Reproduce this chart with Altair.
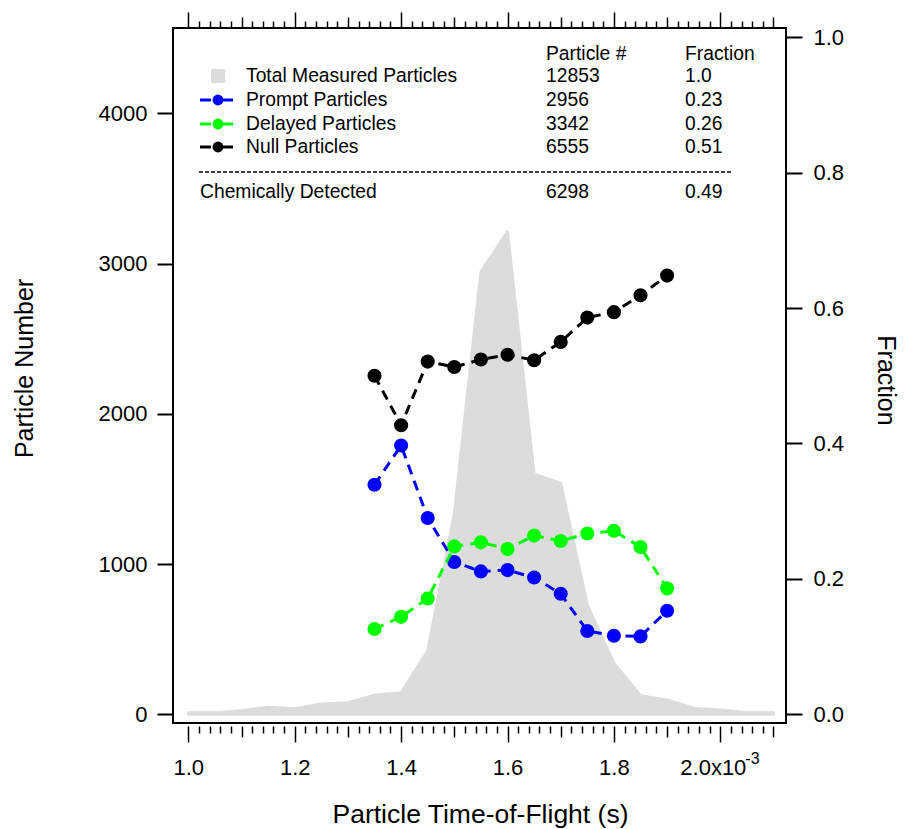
import altair as alt
import pandas as pd

# Histogram of all measured particles vs. time-of-flight (units of 1e-3 s)
hist_tof = [1.00, 1.05, 1.10, 1.15, 1.20, 1.25, 1.30, 1.35, 1.40, 1.45, 1.50, 1.55,
            1.60, 1.65, 1.70, 1.75, 1.80, 1.85, 1.90, 1.95, 2.00, 2.05, 2.10]
hist_counts = [10, 11, 24, 47, 37, 69, 77, 128, 142, 423, 1336, 2945,
               3211, 1599, 1537, 727, 340, 124, 95, 40, 29, 11, 11]

# Fraction of each particle class per time-of-flight bin
frac_tof = [1.35, 1.40, 1.45, 1.50, 1.55, 1.60, 1.65, 1.70, 1.75, 1.80, 1.85, 1.90]
prompt_frac = [0.339, 0.397, 0.290, 0.225, 0.211, 0.213, 0.202, 0.178, 0.123, 0.116, 0.115, 0.153]
delayed_frac = [0.126, 0.144, 0.171, 0.248, 0.254, 0.244, 0.264, 0.256, 0.267, 0.271, 0.247, 0.186]
null_frac = [0.500, 0.427, 0.521, 0.513, 0.524, 0.531, 0.523, 0.550, 0.586, 0.594, 0.619, 0.648]

series_names = ["Prompt Particles", "Delayed Particles", "Null Particles"]
series_colors = ["#0000ff", "#00ff00", "#000000"]

# Summary table shown in the key
legend_header = ["Particle #", "Fraction"]
legend_names = ["Total Measured Particles", "Prompt Particles", "Delayed Particles", "Null Particles"]
legend_counts = ["12853", "2956", "3342", "6555"]
legend_fracs = ["1.0", "0.23", "0.26", "0.51"]
detected_row = ["Chemically Detected", "6298", "0.49"]

# Axis ticks
x_ticks = [round(1.0 + 0.02 * i, 2) for i in range(56)]
count_ticks = [0, 1000, 2000, 3000, 4000]
frac_ticks = [0.0, 0.2, 0.4, 0.6, 0.8, 1.0]

FONT = "Liberation Sans"
W, H = 613, 695
AREA_GRAY = "#dcdcdc"
TICK_FS = 22

xs = alt.Scale(domain=[0.9712, 2.1235], nice=False, zero=False)
count_scale = alt.Scale(domain=[-57.9, 4568], nice=False, zero=False)
frac_scale = alt.Scale(domain=[-0.01285, 1.0137], nice=False, zero=False)

hist_df = pd.DataFrame({"tof": hist_tof, "count": hist_counts})
frac_df = pd.DataFrame({
    "tof": frac_tof * 3,
    "series": [n for n in series_names for _ in frac_tof],
    "frac": prompt_frac + delayed_frac + null_frac,
})

# major ticks every 0.2, medium every 0.1, minor every 0.02
tick_size = {
    "condition": [
        {"test": "abs(datum.value * 5 - round(datum.value * 5)) < 0.001", "value": 16},
        {"test": "abs(datum.value * 10 - round(datum.value * 10)) < 0.001", "value": 11},
    ],
    "value": 7,
}

common = dict(labelFont=FONT, titleFont=FONT, labelColor="black", titleColor="black",
              tickColor="black", domain=False, grid=False, titleFontWeight="normal")

x_bottom = alt.Axis(
    values=x_ticks, tickSize=tick_size, tickWidth=1.5, offset=3,
    labelExpr="abs(datum.value * 5 - round(datum.value * 5)) < 0.001 && datum.value < 1.9 ? format(datum.value, '.1f') : ''",
    labelFontSize=TICK_FS, labelPadding=15, labelFlush=False, labelOverlap=False,
    title="Particle Time-of-Flight (s)", titleFontSize=26.5, titleX=307, titleY=88,
    titleBaseline="middle", titleAlign="center", **common)

x_top = alt.Axis(orient="top", values=x_ticks, tickSize=tick_size, tickWidth=1.5,
                 labels=False, title=None, **common)

y_left = alt.Axis(values=count_ticks, format="d", tickSize=16, tickWidth=2,
                  labelFontSize=TICK_FS, labelPadding=10,
                  title="Particle Number", titleFontSize=25, titleAngle=-90,
                  titleX=-149, titleY=340, titleBaseline="middle", titleAlign="center", **common)

y_right = alt.Axis(orient="right", values=frac_ticks, format=".1f", tickSize=16, tickWidth=2,
                   labelFontSize=TICK_FS, labelPadding=11,
                   title="Fraction", titleFontSize=25, titleAngle=90,
                   titleX=99, titleY=352, titleBaseline="middle", titleAlign="center", **common)

# Total counts as a filled profile on the left axis
area = alt.Chart(hist_df).mark_area(
    color=AREA_GRAY, stroke=AREA_GRAY, strokeWidth=3, strokeJoin="round"
).encode(
    x=alt.X("tof:Q", scale=xs, axis=x_bottom),
    y=alt.Y("count:Q", scale=count_scale, axis=y_left),
    y2=alt.datum(0),
)

# Class fractions on the right axis
frac_layers = []
for name, color in zip(series_names, series_colors):
    base = alt.Chart(frac_df).transform_filter(alt.datum.series == name).encode(
        x=alt.X("tof:Q", scale=xs, axis=x_top),
        y=alt.Y("frac:Q", scale=frac_scale, axis=y_right),
    )
    frac_layers.append(base.mark_line(color=color, strokeWidth=3, strokeDash=[10, 7]))
    frac_layers.append(base.mark_circle(color=color, size=200, opacity=1))
fractions = alt.layer(*frac_layers)


def label(text, x, y, size=19.3, align="left", baseline="middle"):
    return alt.Chart(pd.DataFrame({"t": [text]})).mark_text(
        font=FONT, fontSize=size, align=align, baseline=baseline, color="black"
    ).encode(x=alt.value(x), y=alt.value(y), text="t:N")


key = []
COL_NAME, COL_COUNT, COL_FRAC = 73, 373, 512
key.append(label(legend_header[0], COL_COUNT, 26))
key.append(label(legend_header[1], COL_FRAC, 26))
row_y = [48, 72, 96, 119]
for i, (nm, ct, fr) in enumerate(zip(legend_names, legend_counts, legend_fracs)):
    key.append(label(nm, COL_NAME, row_y[i]))
    key.append(label(ct, COL_COUNT, row_y[i]))
    key.append(label(fr, COL_FRAC, row_y[i]))

# key symbols
sym_df = pd.DataFrame({"s": [0]})
key.append(alt.Chart(sym_df).mark_square(color=AREA_GRAY, size=196, opacity=1).encode(
    x=alt.value(45), y=alt.value(row_y[0])))
for color, yy in zip(series_colors, row_y[1:]):
    key.append(alt.Chart(sym_df).mark_rule(color=color, strokeWidth=3).encode(
        x=alt.value(27), x2=alt.value(38), y=alt.value(yy)))
    key.append(alt.Chart(sym_df).mark_rule(color=color, strokeWidth=3).encode(
        x=alt.value(50), x2=alt.value(60), y=alt.value(yy)))
    key.append(alt.Chart(sym_df).mark_circle(color=color, size=120, opacity=1).encode(
        x=alt.value(45), y=alt.value(yy)))

key.append(alt.Chart(sym_df).mark_rule(color="black", strokeWidth=1.3, strokeDash=[4, 2]).encode(
    x=alt.value(26), x2=alt.value(560), y=alt.value(144)))
key.append(label(detected_row[0], 27, 164))
key.append(label(detected_row[1], COL_COUNT, 164))
key.append(label(detected_row[2], COL_FRAC, 164))

# "2.0x10^-3" tick label with exponent
exp_df = pd.DataFrame({"v": [2.0], "a": ["2.0x10"], "b": ["-3"]})
mant = alt.Chart(exp_df).mark_text(font=FONT, fontSize=TICK_FS, align="left", baseline="alphabetic",
                                   dx=-40, color="black").encode(
    x=alt.X("v:Q", scale=xs, axis=None), y=alt.value(747), text="a:N")
expo = alt.Chart(exp_df).mark_text(font=FONT, fontSize=16, align="left", baseline="alphabetic",
                                   dx=25, color="black").encode(
    x=alt.X("v:Q", scale=xs, axis=None), y=alt.value(736), text="b:N")

chart = alt.layer(area, fractions, *key, mant, expo).resolve_scale(
    y="independent"
).resolve_axis(
    x="independent", y="independent"
).properties(
    width=W, height=H,
    autosize=alt.AutoSizeParams(type="none"),
    padding={"left": 173, "top": 28, "right": 123, "bottom": 106},
    background="white",
).configure_view(stroke="black", strokeWidth=2)

chart.save("out.html", embed_options={"renderer": "svg", "actions": False})
